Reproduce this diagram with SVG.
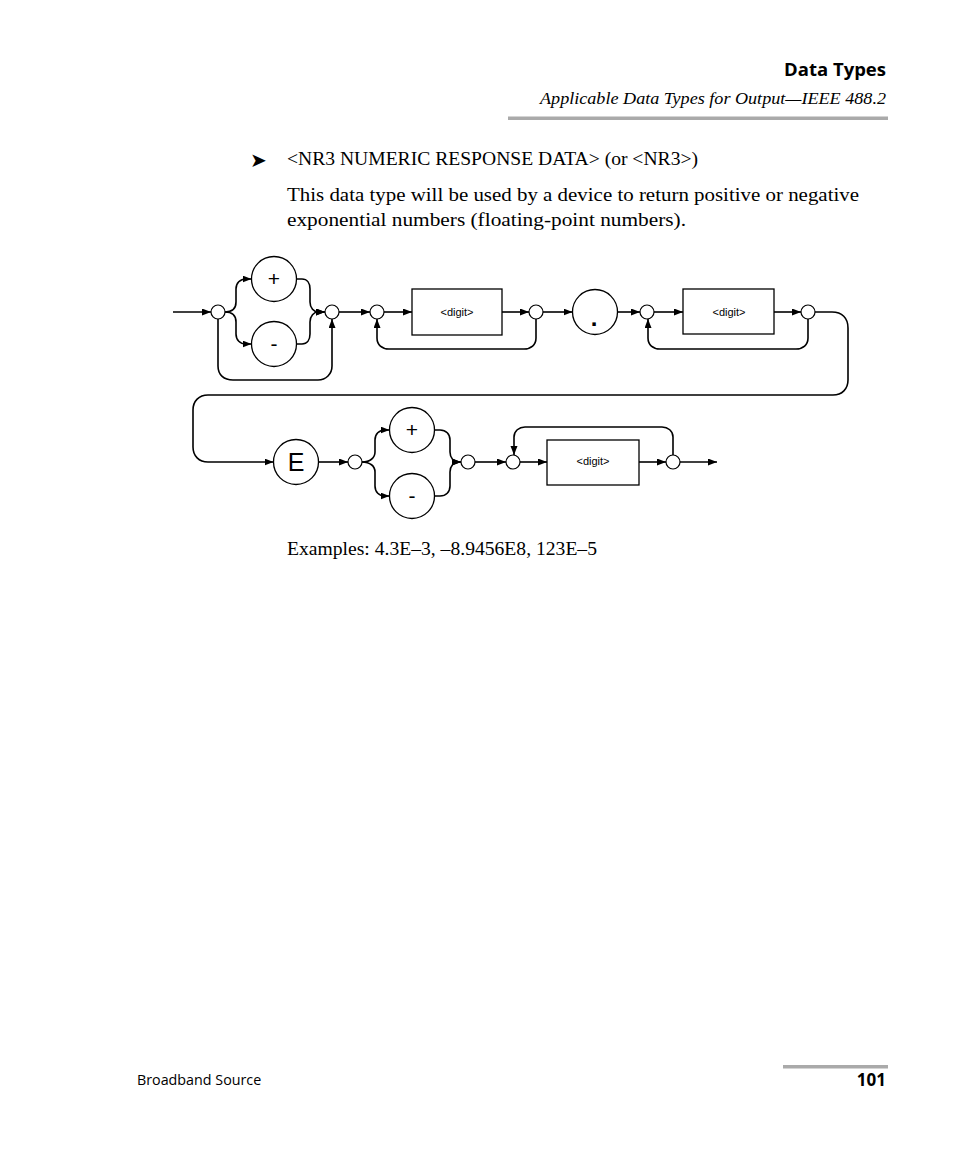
<svg xmlns="http://www.w3.org/2000/svg" width="954" height="1159" viewBox="0 0 954 1159">
<style>
.ln{fill:none;stroke:#000;stroke-width:1.6;marker-end:url(#ah)}
.jn{fill:#fff;stroke:#000;stroke-width:1.2}
.tc{fill:#fff;stroke:#000;stroke-width:1.3}
.bx{fill:#fff;stroke:#000;stroke-width:1.3}
.sym{font-family:"Liberation Sans",Arial,sans-serif;text-anchor:middle;fill:#000}
.dg{font-family:"Liberation Sans",Arial,sans-serif;font-size:11px;text-anchor:middle;fill:#000}
.body{font-family:"Liberation Serif","Times New Roman",serif;font-size:19px;fill:#000}
.hd{font-family:"Open Sans","Noto Sans",sans-serif;fill:#000}
</style>
<defs>
<marker id="ah" markerUnits="userSpaceOnUse" markerWidth="10" markerHeight="8" refX="9" refY="3.5" orient="auto">
<path d="M0,0 L9,3.5 L0,7 z" fill="#000"/>
</marker>
</defs>
<g id="header">
<text class="hd" x="886" y="75.5" font-size="18.5" font-weight="bold" text-anchor="end">Data Types</text>
<text x="886" y="104" font-family="Liberation Serif,'Times New Roman',serif" font-style="italic" font-size="17" text-anchor="end" textLength="346" lengthAdjust="spacingAndGlyphs">Applicable Data Types for Output—IEEE 488.2</text>
<rect x="508" y="116.5" width="380" height="3.5" fill="#aaaaaa"/>
</g>
<g id="intro">
<text x="250" y="167" font-family="DejaVu Sans,sans-serif" font-size="20">➤</text>
<text class="body" x="287" y="165" textLength="411" lengthAdjust="spacingAndGlyphs">&lt;NR3 NUMERIC RESPONSE DATA&gt; (or &lt;NR3&gt;)</text>
<text class="body" x="287" y="201" textLength="572" lengthAdjust="spacingAndGlyphs">This data type will be used by a device to return positive or negative</text>
<text class="body" x="287" y="226" textLength="399" lengthAdjust="spacingAndGlyphs">exponential numbers (floating-point numbers).</text>
</g>
<g id="connectors">
<path class="ln" d="M173,312 H211"/>
<path class="ln" d="M225,312 C233,312 236,308 236,302 V289 C236,283 240,279 246,279 H251.5"/>
<path class="ln" d="M225,312 C233,312 236,316 236,322 V334 C236,340 240,344 246,344 H251.5"/>
<path class="ln" d="M296.5,279 H302 C307,279 310,283 310,289 V302 C310,308 314,312 318,312 H325"/>
<path class="ln" d="M296.5,344 H302 C307,344 310,340 310,334 V322 C310,316 314,312 318,312 H325"/>
<path class="ln" d="M218,319 V366 C218,375 224,380 233,380 H318 C326,380 332,374 332,366 V319"/>
<path class="ln" d="M339,312 H370"/>
<path class="ln" d="M384,312 H412"/>
<path class="ln" d="M502,312 H529"/>
<path class="ln" d="M536,319 V338 C536,345 531,349 524,349 H389 C382,349 377,345 377,338 V319"/>
<path class="ln" d="M543,312 H572.5"/>
<path class="ln" d="M617.5,312 H640"/>
<path class="ln" d="M654,312 H683"/>
<path class="ln" d="M774,312 H801"/>
<path class="ln" d="M808,319 V338 C808,345 803,349 796,349 H660 C653,349 648,345 648,338 V319"/>
<path class="ln" d="M815,312 H832 C842,312 848,318 848,328 V380 C848,389 842,395 833,395 H208 C199,395 193,401 193,410 V447 C193,456 199,462 208,462 H273.5"/>
<path class="ln" d="M318.5,462 H348"/>
<path class="ln" d="M362,462 C370,462 375,458 375,452 V440 C375,434 379,430 385,430 H389.5"/>
<path class="ln" d="M362,462 C370,462 375,466 375,472 V486 C375,492 379,496 385,496 H389.5"/>
<path class="ln" d="M434.5,430 H440 C446,430 450,434 450,440 V452 C450,458 454,462 458,462 H461"/>
<path class="ln" d="M434.5,496 H440 C446,496 450,492 450,486 V472 C450,466 454,462 458,462 H461"/>
<path class="ln" d="M475,462 H506"/>
<path class="ln" d="M520,462 H547"/>
<path class="ln" d="M639,462 H666"/>
<path class="ln" d="M673,455 V437 C673,431 668,427 662,427 H525 C519,427 514,431 514,437 V455"/>
<path class="ln" d="M680,462 H717"/>
</g>
<g id="j1"><circle class="jn" cx="218" cy="312" r="7"/></g>
<g id="plus1"><circle class="tc" cx="274" cy="279" r="22.5"/><text class="sym" x="274" y="286" font-size="21">+</text></g>
<g id="minus1"><circle class="tc" cx="274" cy="344" r="22.5"/><text class="sym" x="274" y="351" font-size="21">-</text></g>
<g id="j2"><circle class="jn" cx="332" cy="312" r="7"/></g>
<g id="j3"><circle class="jn" cx="377" cy="312" r="7"/></g>
<g id="digit1"><rect class="bx" x="412" y="289" width="90" height="46"/><text class="dg" x="457" y="316">&lt;digit&gt;</text></g>
<g id="j4"><circle class="jn" cx="536" cy="312" r="7"/></g>
<g id="dot"><circle class="tc" cx="595" cy="312" r="22.5"/><text class="sym" x="594" y="326" font-size="24" font-weight="bold">.</text></g>
<g id="j5"><circle class="jn" cx="647" cy="312" r="7"/></g>
<g id="digit2"><rect class="bx" x="683" y="289" width="91" height="45"/><text class="dg" x="729" y="316">&lt;digit&gt;</text></g>
<g id="j6"><circle class="jn" cx="808" cy="312" r="7"/></g>
<g id="e"><circle class="tc" cx="296" cy="462" r="22.5"/><text class="sym" x="296" y="471" font-size="25">E</text></g>
<g id="j7"><circle class="jn" cx="355" cy="462" r="7"/></g>
<g id="plus2"><circle class="tc" cx="412" cy="430" r="22.5"/><text class="sym" x="412" y="437" font-size="21">+</text></g>
<g id="minus2"><circle class="tc" cx="412" cy="496" r="22.5"/><text class="sym" x="412" y="503" font-size="21">-</text></g>
<g id="j8"><circle class="jn" cx="468" cy="462" r="7"/></g>
<g id="j9"><circle class="jn" cx="513" cy="462" r="7"/></g>
<g id="digit3"><rect class="bx" x="547" y="440" width="92" height="45"/><text class="dg" x="593" y="465">&lt;digit&gt;</text></g>
<g id="j10"><circle class="jn" cx="673" cy="462" r="7"/></g>
<g id="examples">
<text class="body" x="287" y="555" textLength="310" lengthAdjust="spacingAndGlyphs">Examples: 4.3E–3, –8.9456E8, 123E–5</text>
</g>
<g id="footer">
<rect x="783" y="1065" width="105" height="3.5" fill="#aaaaaa"/>
<text class="hd" x="137" y="1085" font-size="14.3">Broadband Source</text>
<text class="hd" x="886" y="1086" font-size="17" font-weight="bold" text-anchor="end">101</text>
</g>
</svg>
